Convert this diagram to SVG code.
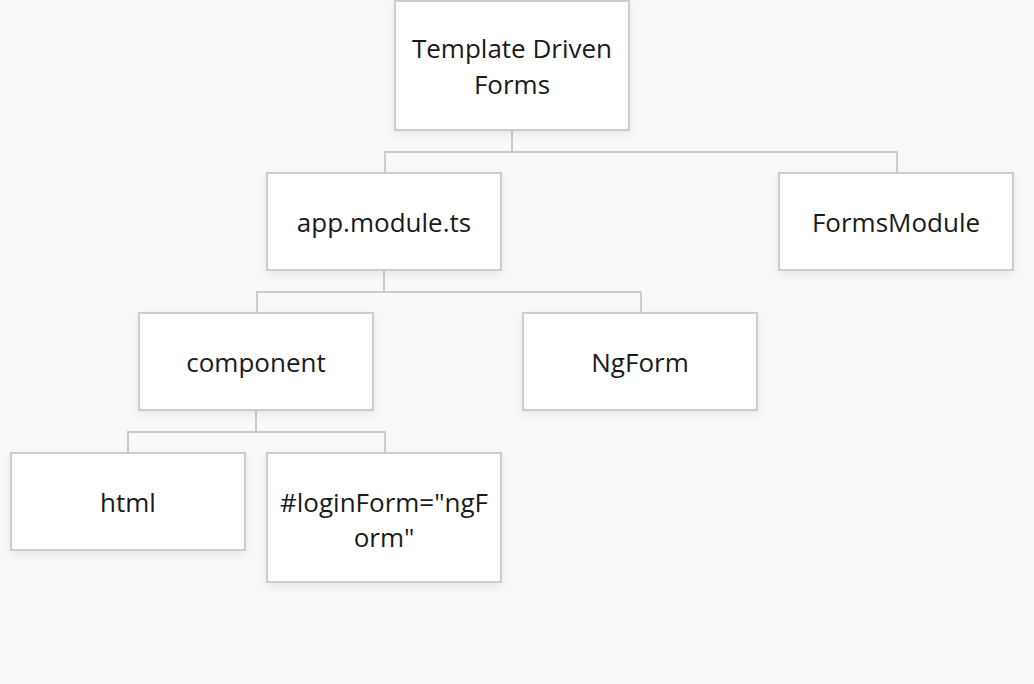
<svg xmlns="http://www.w3.org/2000/svg" width="1034" height="684" viewBox="0 0 1034 684">
<defs>
<filter id="sh" x="-10%" y="-10%" width="125%" height="135%">
<feDropShadow dx="0" dy="4" stdDeviation="5" flood-color="#000" flood-opacity="0.07"/>
</filter>
<style>
.box{fill:#fff;stroke:#cccccc;stroke-width:2;filter:url(#sh)}
.t{font-family:"Open Sans","Liberation Sans",sans-serif;font-size:26px;fill:#1a1a1a;text-anchor:middle}
.c{fill:none;stroke:#cccccc;stroke-width:2}
</style>
</defs>
<rect width="1034" height="684" fill="#f8f9fb"/>
<g id="connectors">
<path class="c" d="M512 130V152M385 173V152H897V173"/>
<path class="c" d="M384 270V292M257 313V292H641V313"/>
<path class="c" d="M256 410V432M128 453V432H385V453"/>
</g>
<g id="root"><rect class="box" x="395" y="1" width="234" height="129"/><text class="t" x="512" y="58">Template Driven</text><text class="t" x="512" y="94">Forms</text></g>
<g id="app"><rect class="box" x="267" y="173" width="234" height="97"/><text class="t" x="384" y="232">app.module.ts</text></g>
<g id="forms"><rect class="box" x="779" y="173" width="234" height="97"/><text class="t" x="896" y="232">FormsModule</text></g>
<g id="component"><rect class="box" x="139" y="313" width="234" height="97"/><text class="t" x="256" y="372">component</text></g>
<g id="ngform"><rect class="box" x="523" y="313" width="234" height="97"/><text class="t" x="640" y="372">NgForm</text></g>
<g id="html"><rect class="box" x="11" y="453" width="234" height="97"/><text class="t" x="128" y="512">html</text></g>
<g id="login"><rect class="box" x="267" y="453" width="234" height="129"/><text class="t" x="384" y="512">#loginForm="ngF</text><text class="t" x="384" y="547">orm"</text></g>
</svg>
